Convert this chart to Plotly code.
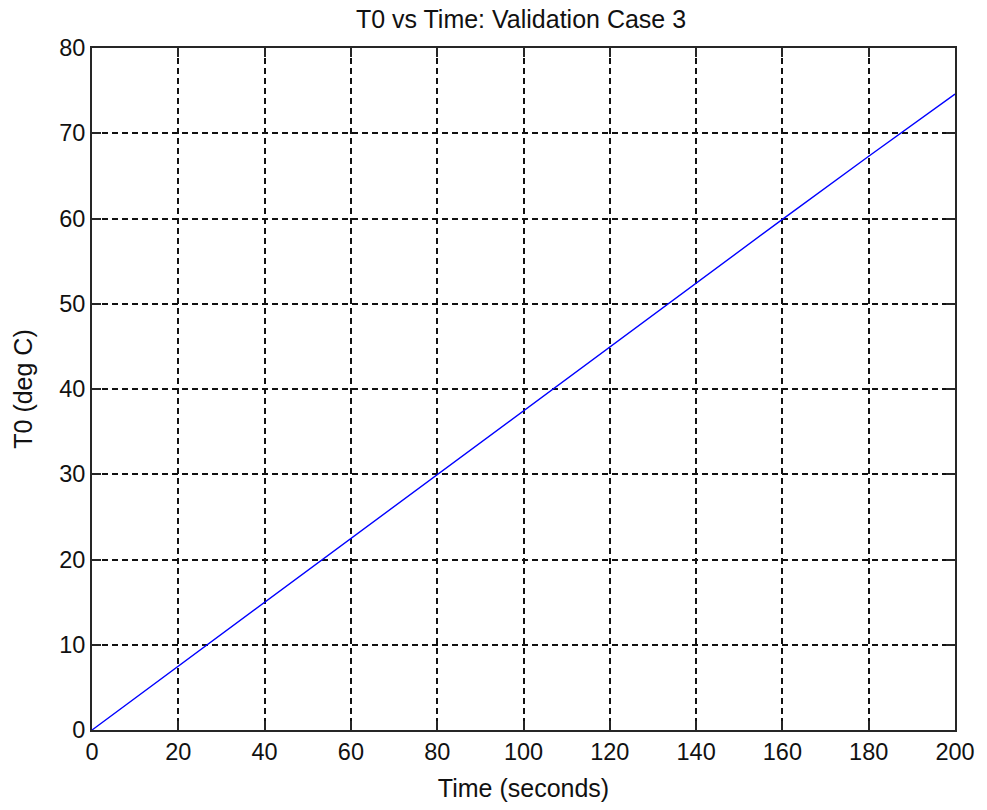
import plotly.graph_objects as go

time_s = [0, 20, 40, 60, 80, 100, 120, 140, 160, 180, 200]
t0_degc = [0, 7.5, 15.0, 22.5, 30.0, 37.4, 44.9, 52.4, 59.9, 67.3, 74.6]
x_ticks = [0, 20, 40, 60, 80, 100, 120, 140, 160, 180, 200]
y_ticks = [0, 10, 20, 30, 40, 50, 60, 70, 80]

fig = go.Figure()
fig.add_trace(go.Scatter(x=time_s, y=t0_degc, mode="lines",
                         line=dict(color="#0000ff", width=1.4), showlegend=False))

font = "Liberation Sans, Arial, sans-serif"
txt = "#111111"
axis_common = dict(
    showline=True, linecolor="#262626", linewidth=2, mirror="ticks",
    ticks="inside", ticklen=9, tickwidth=2, tickcolor="#262626",
    showgrid=True, gridcolor="#111111", griddash="6px,4px", gridwidth=1.6,
    zeroline=False, tickfont=dict(family=font, size=23.5, color=txt),
)
fig.update_xaxes(range=[0, 200], tickvals=x_ticks,
                 title=dict(text="Time (seconds)", font=dict(family=font, size=25, color=txt), standoff=15),
                 **axis_common)
fig.update_yaxes(range=[0, 80], tickvals=y_ticks,
                 title=dict(text="T0 (deg C)", font=dict(family=font, size=25, color=txt), standoff=19),
                 **axis_common)
fig.update_layout(
    width=987, height=810,
    margin=dict(l=92, r=26, t=48, b=77),
    paper_bgcolor="white", plot_bgcolor="white",
    title=dict(text="T0 vs Time: Validation Case 3", x=521/987, xanchor="center",
               xref="container", y=1 - 19/810, yanchor="middle",
               font=dict(family=font, size=25, color=txt)),
)
fig.write_html("out.html", config={"displayModeBar": False},
               post_script="document.body.style.margin='0';")
